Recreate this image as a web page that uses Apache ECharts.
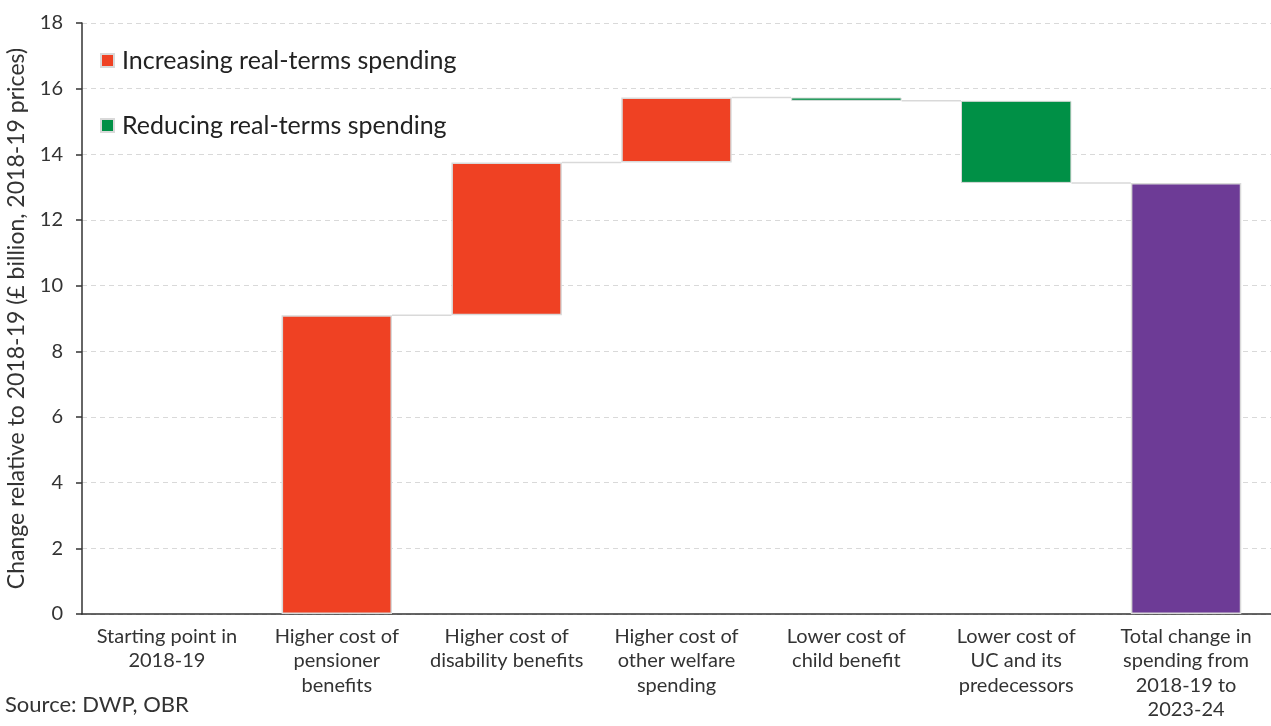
<!DOCTYPE html>
<html>
<head>
<meta charset="utf-8">
<script src="https://cdn.jsdelivr.net/npm/echarts@6/dist/echarts.min.js"></script>
<style>
  html, body { margin: 0; padding: 0; background: #fff; }
  #main { width: 1271px; height: 726px; }
</style>
</head>
<body>
<div id="main"></div>
<script>
const categories = [
  'Starting point in\n2018-19',
  'Higher cost of\npensioner\nbenefits',
  'Higher cost of\ndisability benefits',
  'Higher cost of\nother welfare\nspending',
  'Lower cost of\nchild benefit',
  'Lower cost of\nUC and its\npredecessors',
  'Total change in\nspending from\n2018-19 to\n2023-24'
];
// step changes, first is the start, last is the total
const changes = [0, 9.1, 4.65, 1.98, -0.1, -2.5];
const total = 13.13;
const yTicks = { min: 0, max: 18, interval: 2 };

const fontName = 'Lato';
const red = '#ef4123';
const green = '#009046';
const purple = '#6d3b96';
const edge = '#d9d9d9';

// build stacked pieces
let cum = 0;
const base = [], up = [], down = [], tot = [], levels = [];
changes.forEach((c, i) => {
  const after = cum + c;
  if (c >= 0) {
    base.push(cum); up.push(c === 0 ? '-' : c); down.push('-');
  } else {
    base.push(after); up.push('-'); down.push(-c);
  }
  tot.push('-');
  cum = after;
  if (i > 0) levels.push([i, cum]);
});
base.push(0); up.push('-'); down.push('-'); tot.push(total);

const chart = echarts.init(document.getElementById('main'));
chart.setOption({
  animation: false,
  textStyle: { fontFamily: fontName },
  grid: { left: 82, right: 0, top: 23, bottom: 112, outerBoundsMode: 'none', containLabel: false },
  legend: {
    orient: 'vertical',
    left: 95,
    top: 43,
    itemWidth: 13,
    itemHeight: 13,
    itemGap: 40,
    icon: 'rect',
    textStyle: { fontSize: 25, color: '#222', fontFamily: fontName, padding: [0, 0, 0, 3] },
    data: ['Increasing real-terms spending', 'Reducing real-terms spending']
  },
  xAxis: {
    type: 'category',
    data: categories,
    axisLine: { lineStyle: { color: '#333', width: 1.5 } },
    axisTick: { length: 6, lineStyle: { color: '#333', width: 1.5 } },
    axisLabel: { fontSize: 20, color: '#333', lineHeight: 24.5, margin: 10, interval: 0 }
  },
  yAxis: {
    type: 'value',
    min: yTicks.min,
    max: yTicks.max,
    interval: yTicks.interval,
    name: 'Change relative to 2018-19 (£ billion, 2018-19 prices)',
    nameLocation: 'middle',
    nameGap: 54,
    nameTextStyle: { fontSize: 23, color: '#333' },
    axisLine: { show: true, lineStyle: { color: '#333', width: 1.5 } },
    axisTick: { show: true, length: 6, lineStyle: { color: '#333', width: 1.5 } },
    axisLabel: { fontSize: 20, color: '#333', margin: 19 },
    splitLine: { lineStyle: { color: '#d9d9d9', type: [5, 4], width: 1.2 } }
  },
  series: [
    {
      type: 'custom',
      z: 1,
      silent: true,
      data: levels,
      renderItem: function (params, api) {
        const i = api.value(0);
        const v = api.value(1);
        const p = api.coord([i, v]);
        const q = api.coord([i + 1, v]);
        const w = api.size([1, 0])[0] * 0.65 / 2;
        return {
          type: 'line',
          shape: { x1: p[0] + w, y1: p[1], x2: q[0] - w, y2: q[1] },
          style: { stroke: edge, lineWidth: 1.5 }
        };
      }
    },
    {
      name: 'base', type: 'bar', stack: 'w', barWidth: '65%', z: 2,
      itemStyle: { color: 'transparent' }, data: base, silent: true
    },
    {
      name: 'Increasing real-terms spending', type: 'bar', stack: 'w', z: 2,
      itemStyle: { color: red, borderColor: edge, borderWidth: 1.5 }, data: up
    },
    {
      name: 'Reducing real-terms spending', type: 'bar', stack: 'w', z: 2,
      itemStyle: { color: green, borderColor: edge, borderWidth: 1 }, data: down
    },
    {
      name: 'Total', type: 'bar', stack: 'w', z: 2,
      itemStyle: { color: purple, borderColor: edge, borderWidth: 1.5 }, data: tot
    }
  ],
  graphic: [
    {
      type: 'text', left: 5, top: 694,
      style: { text: 'Source: DWP, OBR', fontSize: 22, fill: '#333', fontFamily: fontName }
    }
  ]
});
</script>
</body>
</html>
